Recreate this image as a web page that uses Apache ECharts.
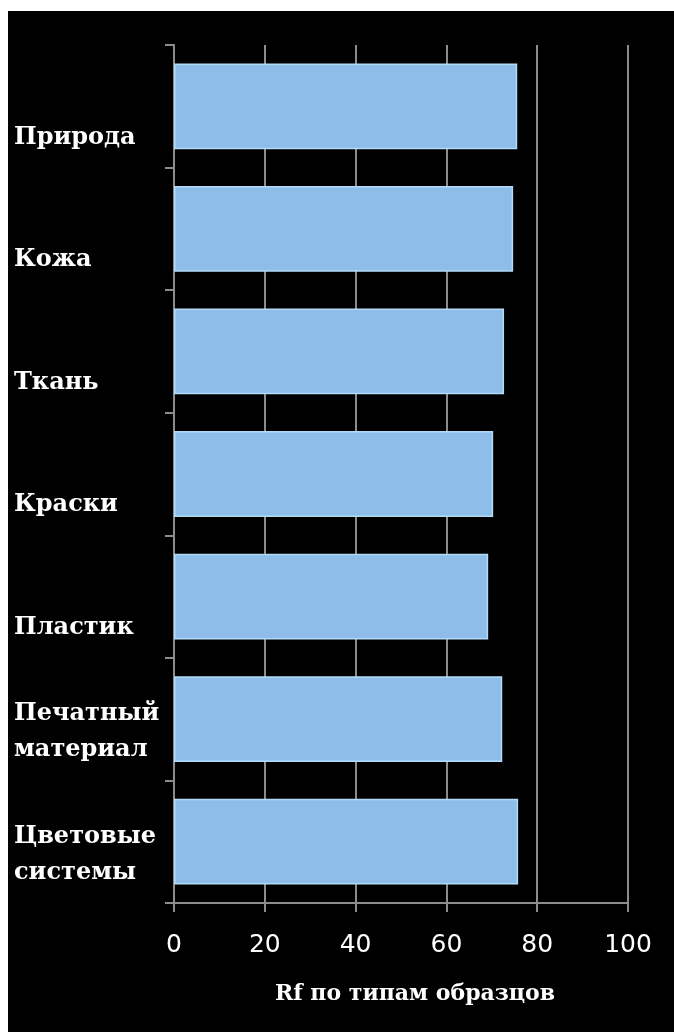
<!DOCTYPE html>
<html>
<head>
<meta charset="utf-8">
<script src="https://cdn.jsdelivr.net/npm/echarts@6/dist/echarts.min.js"></script>
<style>
  html, body { margin: 0; padding: 0; background: #fff; }
  #chart {
    position: absolute;
    left: 8px;
    top: 11px;
    width: 666px;
    height: 1021px;
    background: #000;
  }
</style>
</head>
<body>
<div id="chart"></div>
<script>
  // categories top to bottom
  const categories = [
    'Природа',
    'Кожа',
    'Ткань',
    'Краски',
    'Пластик',
    'Печатный\nматериал',
    'Цветовые\nсистемы'
  ];
  const rfValues = [75.6, 74.7, 72.7, 70.3, 69.2, 72.3, 75.8];
  const xTicks = [0, 20, 40, 60, 80, 100];
  const xTitle = 'Rf по типам образцов';

  const axisGray = '#8c8c8c';
  const serif = '"DejaVu Serif", "Liberation Serif", serif';

  const chart = echarts.init(document.getElementById('chart'));

  // labels sit below the middle of each band in the picture:
  // an empty spacer line on top pushes them down
  function catLabel(value) {
    const lines = value.split('\n');
    const spacer = lines.length === 1 ? '{e1| }' : '{e2| }';
    return spacer + '\n' + lines.map((l) => '{n|' + l + '}').join('\n');
  }

  const labelFont = { color: '#fff', fontFamily: serif, fontWeight: 'bold', fontSize: 24 };

  chart.setOption({
    backgroundColor: '#000',
    animation: false,
    grid: { left: 166, right: 46, top: 34, bottom: 129, outerBoundsMode: 'none', containLabel: false },
    xAxis: {
      type: 'value',
      min: xTicks[0],
      max: xTicks[xTicks.length - 1],
      interval: xTicks[1] - xTicks[0],
      name: xTitle,
      nameLocation: 'middle',
      nameGap: 80,
      nameTextStyle: {
        color: '#fff',
        fontFamily: serif,
        fontWeight: 'bold',
        fontSize: 22,
        padding: [0, 0, 0, 28]
      },
      axisLine: { show: true, lineStyle: { color: axisGray, width: 2 } },
      axisTick: { show: true, length: 9, lineStyle: { color: axisGray, width: 2 } },
      axisLabel: {
        color: '#fff',
        fontFamily: '"DejaVu Sans", sans-serif',
        fontSize: 25,
        margin: 30
      },
      splitLine: { show: true, lineStyle: { color: axisGray, width: 2 } }
    },
    yAxis: {
      type: 'category',
      inverse: true,
      data: categories,
      axisLine: { show: true, lineStyle: { color: axisGray, width: 2 } },
      axisTick: { show: true, length: 9, lineStyle: { color: axisGray, width: 2 } },
      axisLabel: Object.assign({}, labelFont, {
        interval: 0,
        hideOverlap: false,
        align: 'left',
        verticalAlign: 'middle',
        margin: 160,
        formatter: catLabel,
        rich: {
          e1: { fontSize: 6, lineHeight: 62 },
          e2: { fontSize: 6, lineHeight: 26 },
          n: Object.assign({ lineHeight: 36 }, labelFont)
        }
      }),
      splitLine: { show: false }
    },
    series: [
      {
        type: 'bar',
        data: rfValues,
        barCategoryGap: '30%',
        itemStyle: {
          color: '#8dbde8',
          borderColor: '#b3dbf7',
          borderWidth: 1.5
        },
        z: 3
      }
    ]
  });
</script>
</body>
</html>
